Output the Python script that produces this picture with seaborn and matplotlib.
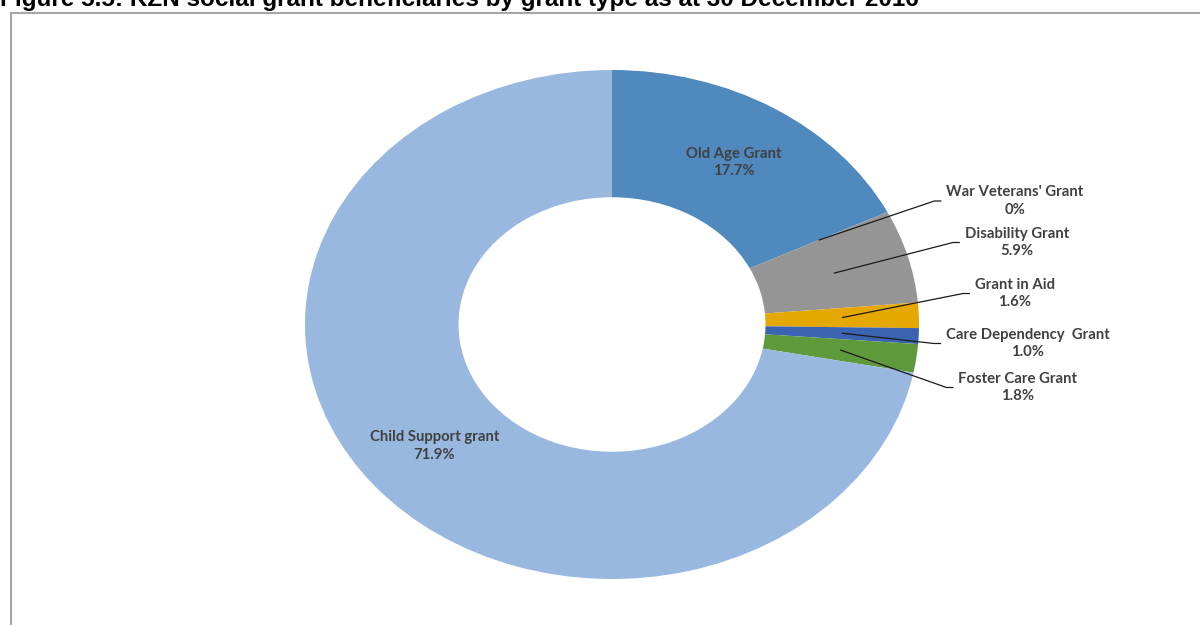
import numpy as np
import matplotlib
matplotlib.use("Agg")
import matplotlib.pyplot as plt
from matplotlib.patches import Rectangle
import seaborn as sns

# Grant types, clockwise from 12 o'clock
grant_types = ["Old Age Grant", "War Veterans' Grant", "Disability Grant",
               "Grant in Aid", "Care Dependency  Grant", "Foster Care Grant",
               "Child Support grant"]
shares = [17.7, 0.0, 5.9, 1.6, 1.0, 1.8, 71.9]
colors = ["#4F89BD", "#8064A2", "#959595", "#E5A800", "#3A63B2", "#5E9A3C", "#98B8DF"]
inside_labels = ["Old Age Grant", "Child Support grant"]

title = "Figure 5.5: KZN social grant beneficiaries by grant type as at 30 December 2016"

sns.set_theme(style="white")
plt.rcParams["font.family"] = ["Lato", "DejaVu Sans"]

W, H = 1200, 625
fig = plt.figure(figsize=(W / 100, H / 100), dpi=100)
fig.patch.set_facecolor("white")

# Donut centre and radii in pixels (slightly stretched horizontally)
cx, cy, rx, ry = 612, 324.5, 307, 254.5
ax = fig.add_axes([0, 0, 1, 1])
ax.pie(shares, colors=colors, startangle=90, counterclock=False,
       radius=1.0, wedgeprops=dict(width=0.5, linewidth=0))
ax.set_aspect("auto")
ax.set_xlim(-cx / rx, (W - cx) / rx)
ax.set_ylim(-(H - cy) / ry, cy / ry)
ax.axis("off")


def px(x, y):
    return (x - cx) / rx, (cy - y) / ry


def fmt(v):
    return "0%" if v == 0 else f"{v:.1f}%"


# Mid-angle of each wedge
total = sum(shares)
cum = np.cumsum([0] + shares[:-1])
mid = [np.deg2rad(90 - 360 * (c + v / 2) / total) for c, v in zip(cum, shares)]

txt_kw = dict(fontsize=10.7, fontweight="bold", color="#404040",
              ha="center", va="center", linespacing=1.3)

# Labels sitting in the ring
for name, v, a in zip(grant_types, shares, mid):
    if name in inside_labels:
        ax.text(0.75 * np.cos(a), 0.75 * np.sin(a), f"{name}\n{fmt(v)}", **txt_kw)

# Callout labels to the right
label_px = {
    "War Veterans' Grant": (1015, 201),
    "Disability Grant": (1017, 242.5),
    "Grant in Aid": (1015, 293.5),
    "Care Dependency  Grant": (1028, 343.5),
    "Foster Care Grant": (1018, 387.5),
}
texts = []
for name, v, a in zip(grant_types, shares, mid):
    if name in label_px:
        t = ax.text(*px(*label_px[name]), f"{name}\n{fmt(v)}", **txt_kw)
        texts.append((t, a, label_px[name]))

fig.canvas.draw()
renderer = fig.canvas.get_renderer()
for t, a, (lx, ly) in texts:
    bb = t.get_window_extent(renderer)
    x_end = bb.x0 - 5
    y_end = H - ly
    x0, y0 = 0.75 * np.cos(a), 0.75 * np.sin(a)
    xe = (x_end - cx) / rx
    xk = (x_end - 7 - cx) / rx
    ye = (y_end - (H - cy)) / ry
    ax.plot([x0, xk, xe], [y0, ye, ye], color="#1a1a1a", lw=0.9,
            solid_capstyle="butt")

# Chart frame
fig.patches.append(Rectangle((11 / W, -0.1), 1.2, 1 - 13 / H + 0.1,
                             transform=fig.transFigure, fill=False,
                             edgecolor="#A6A6A6", linewidth=1.5))

fig.text(0.0, 1 - 6 / H, title, family=["Liberation Sans", "DejaVu Sans"],
         fontsize=17.5, fontweight="bold", color="black", ha="left", va="baseline")

fig.savefig("out.png", dpi=100, facecolor="white")
